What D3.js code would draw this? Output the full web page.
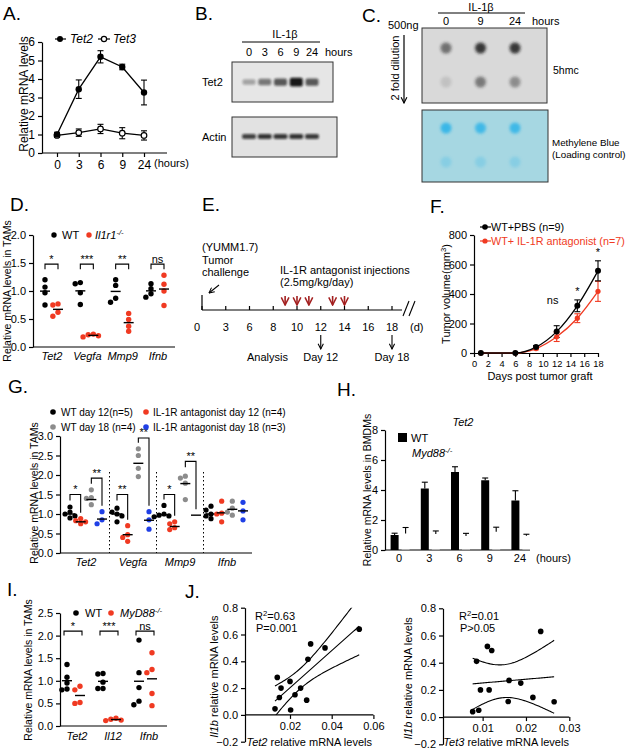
<!DOCTYPE html>
<html>
<head>
<meta charset="utf-8">
<script src="https://cdn.jsdelivr.net/npm/d3@7"></script>
<style>
  body { margin: 0; background: #fff; }
  svg { font-family: "Liberation Sans", Arial, sans-serif; font-size: 11px; }
  .axis path, .axis line { stroke: #000; stroke-width: 1.2; }
  .axis text { fill: #000; font-family: "Liberation Sans", Arial, sans-serif; }
</style>
</head>
<body>
<script>
// ---------- data ----------
// A. Tet2 / Tet3 time course
const hoursA = ['0', '3', '6', '9', '24']
const tet2Mean = [1.0, 3.45, 5.2, 4.65, 3.27]
const tet2Err = [0.12, 0.5, 0.33, 0.15, 0.67]
const tet3Mean = [0.95, 1.1, 1.3, 1.07, 0.95]
const tet3Err = [0.1, 0.2, 0.25, 0.3, 0.25]

// B. western blot (band intensity 0..1)
const blotLanes = ['0', '3', '6', '9', '24']
const tet2Band = [0.3, 0.5, 0.65, 0.95, 0.65]
const actinBand = [0.75, 0.82, 0.8, 0.82, 0.78]

// C. dot blot
const dotLanes = ['0', '9', '24']
const hmcRow1 = [0.55, 0.85, 0.85]
const hmcRow2 = [0.12, 0.5, 0.4]
const mbRow1 = [0.9, 0.85, 0.85]
const mbRow2 = [0.25, 0.25, 0.25]

// D. TAMs WT vs Il1r1-/-
const genesD = ['Tet2', 'Vegfa', 'Mmp9', 'Ifnb']
const wtD = [[1.2, 1.07, 0.97, 0.75], [1.13, 1.15, 0.97, 0.76], [1.2, 1.1, 0.87, 0.8], [1.13, 1.04, 0.95, 0.89]]
const koD = [[0.77, 0.75, 0.62, 0.55], [0.23, 0.2, 0.18, 0.22], [0.6, 0.49, 0.37, 0.28], [1.28, 1.12, 1.0, 0.74]]
const sigD = ['*', '***', '**', 'ns']

// E. timeline
const dayTicks = [0, 3, 6, 8, 10, 12, 14, 16, 18]
const injectionDays = [9, 10, 11, 13, 14]
const analysisDays = [12, 18]

// F. tumour volume
const daysF = [1, 6, 9, 12, 15, 18]
const pbsMean = [0, 0, 40, 145, 320, 557]
const pbsErr = [0, 0, 10, 40, 40, 68]
const antaMean = [0, 0, 30, 110, 236, 418]
const antaErr = [0, 0, 8, 32, 30, 68]
const sigF = [['ns', 12], ['*', 15], ['*', 18]]

// G. TAMs day 12 / day 18
const genesG = ['Tet2', 'Vegfa', 'Mmp9', 'Ifnb']
const groupsG = ['WT day 12(n=5)', 'IL-1R antagonist day 12 (n=4)', 'WT day 18 (n=4)', 'IL-1R antagonist day 18 (n=3)']
const wt12G = [[1.18, 1.05, 1.0, 0.95, 0.9], [1.15, 1.05, 1.0, 0.95, 0.8], [1.22, 1.0, 0.97, 0.95, 0.93], [1.2, 1.1, 1.0, 0.95, 0.88]]
const anta12G = [[0.88, 0.83, 0.8, 0.75], [0.7, 0.47, 0.4, 0.3], [0.8, 0.75, 0.65, 0.6], [1.33, 1.02, 1.0, 0.8]]
const wt18G = [[1.62, 1.42, 1.4, 1.24], [2.67, 2.5, 2.17, 1.96], [1.92, 1.97, 1.79, 1.37], [1.33, 1.15, 1.05, 0.97]]
const anta18G = [[1.06, 0.85, 0.75], [1.06, 0.85, 0.61], [], [1.3, 1.08, 0.85]]
const meanG = [[1.0, 0.8, 1.37, 0.87], [1.0, 0.47, 2.3, 0.84], [0.98, 0.68, 1.78, 0.97], [1.0, 1.03, 1.12, 1.08]]
const sigG = [
  ['Tet2', 0, 1, '*', 1.5], ['Tet2', 2, 3, '**', 1.92],
  ['Vegfa', 0, 1, '**', 1.5], ['Vegfa', 2, 3, '**', 2.95],
  ['Mmp9', 0, 1, '*', 1.5], ['Mmp9', 2, 3, '**', 2.35]
]

// H. BMDMs WT vs Myd88-/-
const hoursH = ['0', '3', '6', '9', '24']
const wtH = [1.0, 4.1, 5.2, 4.65, 3.3]
const wtHErr = [0.12, 0.42, 0.35, 0.15, 0.65]
const myd88H = [1.1, 1.07, 0.93, 1.22, 0.95]
const myd88HErr = [0.4, 0.2, 0.18, 0.3, 0.1]

// I. TAMs WT vs MyD88-/-
const genesI = ['Tet2', 'Il12', 'Ifnb']
const wtI = [[1.36, 1.08, 0.95, 0.82, 0.8], [1.15, 1.16, 0.97, 0.83, 0.83], [1.9, 1.18, 0.85, 0.55, 0.47]]
const koI = [[0.88, 0.8, 0.52, 0.5], [0.17, 0.15, 0.13, 0.12], [1.62, 1.25, 1.18, 0.72, 0.45]]
const sigI = ['*', '***', 'ns']

// J. correlations
const tet2J = [0.0128, 0.0139, 0.0157, 0.0149, 0.0203, 0.0200, 0.0224, 0.0251, 0.0280, 0.0286, 0.0299, 0.0368, 0.0532]
const il1bJ1 = [0.045, 0.28, 0.20, 0.13, 0.037, 0.25, 0.15, 0.20, 0.11, 0.415, 0.53, 0.50, 0.64]
const tet3J = [0.0077, 0.0091, 0.0086, 0.0095, 0.0111, 0.0121, 0.0115, 0.0159, 0.0161, 0.0188, 0.0216, 0.0234, 0.0265]
const il1bJ2 = [0.04, 0.05, 0.41, 0.20, 0.52, 0.49, 0.20, 0.115, 0.27, 0.25, 0.145, 0.63, 0.113]

const red = '#f03a22', grey = '#8c8c8c', blue = '#1f3fe6', darkRed = '#a32020'

// ---------- svg ----------
const svg = d3.select('body').append('svg').attr('width', 633).attr('height', 750)
const defs = svg.append('defs')
defs.append('filter').attr('id', 'blur1').attr('x', '-50%').attr('y', '-100%').attr('width', '200%').attr('height', '300%')
  .append('feGaussianBlur').attr('stdDeviation', 0.9)
defs.append('filter').attr('id', 'blur2').attr('x', '-50%').attr('y', '-50%').attr('width', '200%').attr('height', '200%')
  .append('feGaussianBlur').attr('stdDeviation', 1.6)
const arrowDef = (id, color) => defs.append('marker').attr('id', id).attr('viewBox', '0 0 10 10')
  .attr('refX', 9).attr('refY', 5).attr('markerWidth', 6).attr('markerHeight', 6).attr('orient', 'auto')
  .append('path').attr('d', 'M1,1L9,5L1,9').attr('fill', 'none').attr('stroke', color).attr('stroke-width', 1.6)
arrowDef('arrBlack', '#000')
arrowDef('arrRed', darkRed)

// ---------- helpers ----------
function text(g, x, y, str, anchor = 'start', size = 11, style = 'normal', color = '#000') {
  return g.append('text').attr('x', x).attr('y', y).attr('text-anchor', anchor)
    .attr('font-size', size).attr('font-style', style).attr('fill', color).text(str)
}
function rich(g, x, y, parts, anchor = 'start', size = 11, rotate = false, color = '#000') {
  const t = g.append('text').attr('text-anchor', anchor).attr('font-size', size).attr('fill', color)
    .attr('transform', `translate(${x},${y})` + (rotate ? ' rotate(-90)' : ''))
  parts.forEach(p => {
    const s = t.append('tspan').text(p.t)
    if (p.i) s.attr('font-style', 'italic')
    if (p.sup) s.attr('baseline-shift', 'super').attr('font-size', size * 0.7)
  })
  return t
}
const panelLabel = (str, x, y) => text(svg, x, y, str, 'start', 19)
function line(g, x1, y1, x2, y2, color = '#000', w = 1.2) {
  return g.append('line').attr('x1', x1).attr('y1', y1).attr('x2', x2).attr('y2', y2)
    .attr('stroke', color).attr('stroke-width', w)
}
function yAxis(scale, x, ticks, fmt, size = 11) {
  svg.append('g').attr('class', 'axis').attr('transform', `translate(${x},0)`)
    .call(d3.axisLeft(scale).tickValues(ticks).tickFormat(fmt).tickSize(4).tickSizeOuter(0))
    .selectAll('text').attr('font-size', size)
}
function xAxis(scale, y, ticks, fmt, size = 11, keepDomain = false) {
  const g = svg.append('g').attr('class', 'axis').attr('transform', `translate(0,${y})`)
    .call(d3.axisBottom(scale).tickValues(ticks).tickFormat(fmt).tickSize(4).tickSizeOuter(0))
  g.selectAll('text').attr('font-size', size)
  if (!keepDomain) g.select('.domain').remove()
  return g
}
function errBar(g, x, y1, y2, color = '#000', cap = 3) {
  line(g, x, y1, x, y2, color, 1.1)
  line(g, x - cap, y1, x + cap, y1, color, 1.1)
  line(g, x - cap, y2, x + cap, y2, color, 1.1)
}
// simple beeswarm so that dots with close values sit side by side
function swarm(values, y, cx, r) {
  const pts = values.map(v => ({ v, y: y(v) })).sort((a, b) => a.y - b.y)
  const placed = []
  pts.forEach(p => {
    for (const o of [0, -1, 1, -2, 2, -3, 3, -4, 4]) {
      const x = cx + o * r * 0.95
      if (placed.every(q => Math.hypot(q.x - x, q.y - p.y) >= 1.8 * r)) { p.x = x; break }
    }
    if (p.x === undefined) p.x = cx
    placed.push(p)
  })
  return pts
}
function dotPlot(values, cx, y, color, meanVal, r = 2.7) {
  svg.append('g').selectAll('circle').data(swarm(values, y, cx, r)).join('circle')
    .attr('cx', d => d.x).attr('cy', d => d.y).attr('r', r).attr('fill', color)
  const m = meanVal ?? d3.mean(values)
  line(svg, cx - 5, y(m), cx + 5, y(m), '#000', 1.4)
}
function bracket(x1, x2, yTop, y1, y2, label) {
  svg.append('path').attr('d', `M${x1},${y1}V${yTop}H${x2}V${y2}`)
    .attr('fill', 'none').attr('stroke', '#000').attr('stroke-width', 1.1)
  text(svg, (x1 + x2) / 2, yTop - 1.5, label, 'middle', 11)
}

// ---------- A ----------
panelLabel('A.', 3, 20)
const yA = d3.scaleLinear().domain([0, 6]).range([153, 42])
const xA = d3.scalePoint().domain(hoursA).range([57, 144])
yAxis(yA, 42, d3.range(0, 7), d3.format('d'), 12)
xAxis(xA, 153, hoursA, d => d, 12)
line(svg, 42, 153, 167, 153)
text(svg, 154, 167, '(hours)', 'start', 11)
rich(svg, 28, 94, [{ t: 'Relative mRNA levels' }], 'middle', 12, true)
const lineA = d3.line().x((d, i) => xA(hoursA[i])).y(d => yA(d))
svg.append('path').attr('d', lineA(tet3Mean)).attr('fill', 'none').attr('stroke', '#000').attr('stroke-width', 1.3)
svg.append('path').attr('d', lineA(tet2Mean)).attr('fill', 'none').attr('stroke', '#000').attr('stroke-width', 1.3)
hoursA.forEach((h, i) => {
  errBar(svg, xA(h), yA(tet2Mean[i] - tet2Err[i]), yA(tet2Mean[i] + tet2Err[i]))
  errBar(svg, xA(h), yA(tet3Mean[i] - tet3Err[i]), yA(tet3Mean[i] + tet3Err[i]))
})
svg.append('g').selectAll('circle').data(tet3Mean).join('circle')
  .attr('cx', (d, i) => xA(hoursA[i])).attr('cy', d => yA(d)).attr('r', 2.8)
  .attr('fill', '#fff').attr('stroke', '#000').attr('stroke-width', 1.2)
svg.append('g').selectAll('circle').data(tet2Mean).join('circle')
  .attr('cx', (d, i) => xA(hoursA[i])).attr('cy', d => yA(d)).attr('r', 3.2).attr('fill', '#000')
line(svg, 55, 39, 66, 39); svg.append('circle').attr('cx', 60).attr('cy', 39).attr('r', 3).attr('fill', '#000')
text(svg, 70, 43, 'Tet2', 'start', 12, 'italic')
line(svg, 98, 39, 110, 39); svg.append('circle').attr('cx', 104).attr('cy', 39).attr('r', 2.6)
  .attr('fill', '#fff').attr('stroke', '#000').attr('stroke-width', 1.2)
text(svg, 113, 43, 'Tet3', 'start', 12, 'italic')

// ---------- B ----------
panelLabel('B.', 195, 20)
const xB = d3.scalePoint().domain(blotLanes).range([249, 312])
text(svg, 285, 38, 'IL-1β', 'middle', 11)
line(svg, 242, 42, 320, 42, '#000', 1)
blotLanes.forEach(l => text(svg, xB(l), 56, l, 'middle', 11))
text(svg, 325, 56, 'hours', 'start', 11)
svg.append('rect').attr('x', 232).attr('y', 62).attr('width', 101).attr('height', 40)
  .attr('fill', '#e6e6e6').attr('stroke', '#333').attr('stroke-width', 1)
svg.append('rect').attr('x', 232).attr('y', 117).attr('width', 105).attr('height', 40)
  .attr('fill', '#e2e2e2').attr('stroke', '#333').attr('stroke-width', 1)
text(svg, 202, 86, 'Tet2', 'start', 11)
text(svg, 202, 141, 'Actin', 'start', 11)
svg.append('g').selectAll('rect').data(tet2Band).join('rect')
  .attr('x', (d, i) => xB(blotLanes[i]) - 6.5).attr('width', 13)
  .attr('y', d => 82 - (2 + 2.5 * d)).attr('height', d => 4 + 5 * d).attr('rx', 2)
  .attr('fill', '#111').attr('opacity', d => d).attr('filter', 'url(#blur1)')
svg.append('g').selectAll('rect').data(actinBand).join('rect')
  .attr('x', (d, i) => xB(blotLanes[i]) - 7).attr('width', 14)
  .attr('y', 134).attr('height', 5).attr('rx', 2)
  .attr('fill', '#111').attr('opacity', d => d).attr('filter', 'url(#blur1)')

// ---------- C ----------
panelLabel('C.', 362, 22)
text(svg, 388, 29, '500ng', 'start', 11)
svg.append('line').attr('x1', 404).attr('y1', 35).attr('x2', 404).attr('y2', 103)
  .attr('stroke', '#000').attr('stroke-width', 1.2).attr('marker-end', 'url(#arrBlack)')
rich(svg, 399, 68, [{ t: '2 fold dilution' }], 'middle', 11, true)
const xC = d3.scalePoint().domain(dotLanes).range([446, 515])
text(svg, 481, 11, 'IL-1β', 'middle', 11)
line(svg, 438, 13, 525, 13, '#000', 1)
dotLanes.forEach(l => text(svg, xC(l), 25, l, 'middle', 11))
text(svg, 532, 25, 'hours', 'start', 11)
svg.append('rect').attr('x', 422).attr('y', 28).attr('width', 125).attr('height', 75)
  .attr('fill', '#d9d9d9').attr('stroke', '#333').attr('stroke-width', 1)
svg.append('rect').attr('x', 422).attr('y', 110).attr('width', 126).attr('height', 72)
  .attr('fill', '#a6d7e2').attr('stroke', '#333').attr('stroke-width', 1)
const dotRow = (vals, cy, color) => svg.append('g').selectAll('circle').data(vals).join('circle')
  .attr('cx', (d, i) => xC(dotLanes[i])).attr('cy', cy).attr('r', 5.5)
  .attr('fill', color).attr('opacity', d => d).attr('filter', 'url(#blur2)')
dotRow(hmcRow1, 48, '#1a1a1a')
dotRow(hmcRow2, 82, '#1a1a1a')
dotRow(mbRow1, 128, '#2fb4e8')
dotRow(mbRow2, 162, '#2fb4e8')
text(svg, 553, 74, '5hmc', 'start', 10.5)
text(svg, 552, 146, 'Methylene Blue', 'start', 9.8)
text(svg, 552, 158, '(Loading control)', 'start', 9.8)

// ---------- D ----------
panelLabel('D.', 10, 211)
const yD = d3.scaleLinear().domain([0, 2]).range([347, 235])
const xD = d3.scalePoint().domain(genesD).range([52, 158])
yAxis(yD, 33, d3.range(0, 2.01, 0.5), d3.format('.1f'))
line(svg, 33, 347, 175, 347)
rich(svg, 11, 291, [{ t: 'Relative mRNA levels in TAMs' }], 'middle', 10.5, true)
genesD.forEach((g, i) => {
  const c = xD(g)
  dotPlot(wtD[i], c - 7, yD, '#000')
  dotPlot(koD[i], c + 6, yD, red)
  bracket(c - 7, c + 6, yD(1.48), yD(1.39), yD(1.39), sigD[i])
  text(svg, c, 360, g, 'middle', 11, 'italic')
})
svg.append('circle').attr('cx', 54).attr('cy', 235).attr('r', 2.7).attr('fill', '#000')
text(svg, 62, 239, 'WT', 'start', 11)
svg.append('circle').attr('cx', 89).attr('cy', 235).attr('r', 2.7).attr('fill', red)
rich(svg, 95, 239, [{ t: 'Il1r1', i: true }, { t: '-/-', i: true, sup: true }], 'start', 11)

// ---------- E ----------
panelLabel('E.', 202, 211)
const xE = d3.scaleLinear().domain(dayTicks).range(dayTicks.map((d, i) => 202 + i * 23.75))
line(svg, 202, 310, 402, 310)
line(svg, 202, 295, 202, 310)
dayTicks.forEach(d => {
  line(svg, xE(d), 306, xE(d), 310)
  text(svg, xE(d) - (d === 0 ? 5 : 0), 331, d, 'middle', 11)
})
text(svg, 410, 331, '(d)', 'start', 11)
line(svg, 403, 316, 409, 301, '#000', 1.1)
line(svg, 409, 316, 415, 301, '#000', 1.1)
text(svg, 202, 251, '(YUMM1.7)', 'start', 11)
text(svg, 202, 264, 'Tumor', 'start', 11)
text(svg, 202, 276, 'challenge', 'start', 11)
svg.append('line').attr('x1', 219).attr('y1', 285).attr('x2', 209).attr('y2', 293)
  .attr('stroke', '#000').attr('stroke-width', 1.1).attr('marker-end', 'url(#arrBlack)')
text(svg, 280, 274, 'IL-1R antagonist injections', 'start', 11)
text(svg, 280, 286, '(2.5mg/kg/day)', 'start', 11)
svg.append('g').selectAll('line').data(injectionDays).join('line')
  .attr('x1', d => xE(d)).attr('x2', d => xE(d)).attr('y1', 296).attr('y2', 305)
  .attr('stroke', darkRed).attr('stroke-width', 1.6).attr('marker-end', 'url(#arrRed)')
svg.append('g').selectAll('line').data(analysisDays).join('line')
  .attr('x1', d => xE(d)).attr('x2', d => xE(d)).attr('y1', 335).attr('y2', 349)
  .attr('stroke', '#000').attr('stroke-width', 1.1).attr('marker-end', 'url(#arrBlack)')
analysisDays.forEach(d => text(svg, xE(d), 361, 'Day ' + d, 'middle', 11))
text(svg, 247, 361, 'Analysis', 'start', 11)

// ---------- F ----------
panelLabel('F.', 430, 213)
const yF = d3.scaleLinear().domain([0, 800]).range([353, 235])
const xF = d3.scaleLinear().domain([0, 18]).range([474, 598])
yAxis(yF, 474, d3.range(0, 801, 200), d3.format('d'))
xAxis(xF, 353, d3.range(0, 19, 2), d3.format('d'), 9.3, true)
text(svg, 540, 380, 'Days post tumor graft', 'middle', 11)
rich(svg, 450, 294, [{ t: 'Tumor volume(mm' }, { t: '3', sup: true }, { t: ')' }], 'middle', 11, true)
const curveF = d3.line().x((d, i) => xF(daysF[i])).y(d => yF(d)).curve(d3.curveMonotoneX)
svg.append('path').attr('d', curveF(antaMean)).attr('fill', 'none').attr('stroke', red).attr('stroke-width', 1.3)
svg.append('path').attr('d', curveF(pbsMean)).attr('fill', 'none').attr('stroke', '#000').attr('stroke-width', 1.3)
daysF.forEach((d, i) => {
  if (antaErr[i] > 0) errBar(svg, xF(d), yF(antaMean[i] - antaErr[i]), yF(antaMean[i] + antaErr[i]), red)
  if (pbsErr[i] > 0) errBar(svg, xF(d), yF(pbsMean[i] - pbsErr[i]), yF(pbsMean[i] + pbsErr[i]), '#000')
})
svg.append('g').selectAll('circle').data(antaMean).join('circle')
  .attr('cx', (d, i) => xF(daysF[i])).attr('cy', d => yF(d)).attr('r', 2.6).attr('fill', red)
svg.append('g').selectAll('circle').data(pbsMean).join('circle')
  .attr('cx', (d, i) => xF(daysF[i])).attr('cy', d => yF(d)).attr('r', 3).attr('fill', '#000')
sigF.forEach(([s, d]) => {
  const top = yF(pbsMean[daysF.indexOf(d)] + pbsErr[daysF.indexOf(d)])
  text(svg, xF(d) + (s === 'ns' ? -4 : 0), top - (s === 'ns' ? 22 : 5), s, 'middle', 11)
})
line(svg, 480, 227, 491, 227); svg.append('circle').attr('cx', 485).attr('cy', 227).attr('r', 2.8).attr('fill', '#000')
text(svg, 491, 231, 'WT+PBS (n=9)', 'start', 10.8)
line(svg, 480, 241, 491, 241, red); svg.append('circle').attr('cx', 485).attr('cy', 241).attr('r', 2.6).attr('fill', red)
text(svg, 491, 245, 'WT+ IL-1R antagonist (n=7)', 'start', 10.8, 'normal', red)

// ---------- G ----------
panelLabel('G.', 8, 393)
const yG = d3.scaleLinear().domain([0, 3]).range([553, 436])
const xG = d3.scalePoint().domain(genesG).range([86, 227])
const subG = d3.scalePoint().domain(d3.range(4)).range([-16, 16])
yAxis(yG, 60, d3.range(0, 3.01, 0.5), d3.format('.1f'))
line(svg, 60, 553, 252, 553)
rich(svg, 38, 493, [{ t: 'Relative mRNA levels in TAMs' }], 'middle', 10.5, true)
genesG.slice(1).forEach((g, i) => {
  const xm = (xG(genesG[i]) + xG(g)) / 2
  svg.append('line').attr('x1', xm).attr('x2', xm).attr('y1', 472).attr('y2', 553)
    .attr('stroke', '#000').attr('stroke-width', 1).attr('stroke-dasharray', '1.5,2.5')
})
const seriesG = [[wt12G, '#000'], [anta12G, red], [wt18G, grey], [anta18G, blue]]
genesG.forEach((g, i) => {
  seriesG.forEach(([vals, col], k) => dotPlot(vals[i], xG(g) + subG(k), yG, col, meanG[i][k], 2.6))
  text(svg, xG(g), 566, g, 'middle', 11, 'italic')
})
sigG.forEach(([g, a, b, s, top]) => {
  const i = genesG.indexOf(g)
  const x1 = xG(g) + subG(a), x2 = xG(g) + subG(b)
  const srcA = seriesG[a][0][i], srcB = seriesG[b][0][i]
  const hiA = d3.max(srcA.length ? srcA : [meanG[i][a]]), hiB = d3.max(srcB.length ? srcB : [meanG[i][b]])
  bracket(x1, x2, yG(top), Math.min(yG(hiA) - 6, yG(top) + 6), Math.max(yG(hiB) - 6, yG(top) + 6), s)
})
const legG = [[53, 412, '#000', 61], [146, 412, red, 153], [53, 427, grey, 61], [146, 427, blue, 153]]
groupsG.forEach((name, k) => {
  const [cx, cy, col, tx] = legG[k]
  svg.append('circle').attr('cx', cx).attr('cy', cy).attr('r', 2.8).attr('fill', col)
  text(svg, tx, cy + 4, name, 'start', 10)
})

// ---------- H ----------
panelLabel('H.', 337, 396)
const yH = d3.scaleLinear().domain([0, 8]).range([550, 430])
const xH = d3.scaleBand().domain(hoursH).range([385, 536])
yAxis(yH, 385, d3.range(0, 9, 2), d3.format('d'))
line(svg, 385, 550, 530, 550)
hoursH.forEach(h => text(svg, xH(h) + xH.bandwidth() / 2 - 1, 562, h, 'middle', 11))
text(svg, 536, 562, '(hours)', 'start', 11)
text(svg, 463, 426, 'Tet2', 'middle', 11, 'italic')
rich(svg, 371, 490, [{ t: 'Relative mRNA levels in BMDMs' }], 'middle', 10.5, true)
const cH = h => xH(h) + xH.bandwidth() / 2
svg.append('g').selectAll('rect').data(wtH).join('rect')
  .attr('x', (d, i) => cH(hoursH[i]) - 9.5).attr('width', 8)
  .attr('y', d => yH(d)).attr('height', d => yH(0) - yH(d)).attr('fill', '#000')
svg.append('g').selectAll('rect').data(myd88H).join('rect')
  .attr('x', (d, i) => cH(hoursH[i]) + 1.5).attr('width', 8)
  .attr('y', d => yH(d)).attr('height', d => yH(0) - yH(d) - 0.6).attr('fill', '#fff')
hoursH.forEach((h, i) => {
  const xw = cH(h) - 5.5, xm = cH(h) + 5.5
  line(svg, xw, yH(wtH[i]), xw, yH(wtH[i] + wtHErr[i]), '#000', 1.1)
  line(svg, xw - 3, yH(wtH[i] + wtHErr[i]), xw + 3, yH(wtH[i] + wtHErr[i]), '#000', 1.1)
  line(svg, xm, yH(myd88H[i]), xm, yH(myd88H[i] + myd88HErr[i]), '#000', 1.1)
  line(svg, xm - 3, yH(myd88H[i] + myd88HErr[i]), xm + 3, yH(myd88H[i] + myd88HErr[i]), '#000', 1.1)
})
svg.append('rect').attr('x', 398).attr('y', 433).attr('width', 9).attr('height', 9).attr('fill', '#000')
text(svg, 411, 442, 'WT', 'start', 11)
rich(svg, 412, 457, [{ t: 'Myd88', i: true }, { t: '-/-', i: true, sup: true }], 'start', 11)

// ---------- I ----------
panelLabel('I.', 7, 596)
const yI = d3.scaleLinear().domain([0, 2.5]).range([726, 613])
const xI = d3.scalePoint().domain(genesI).range([74, 146])
yAxis(yI, 60, d3.range(0, 2.51, 0.5), d3.format('.1f'))
line(svg, 60, 726, 167, 726)
rich(svg, 32, 670, [{ t: 'Relative mRNA levels in TAMs' }], 'middle', 10.5, true)
genesI.forEach((g, i) => {
  const c = xI(g)
  dotPlot(wtI[i], c - 7, yI, '#000')
  dotPlot(koI[i], c + 6, yI, red)
  bracket(c - 10, c + 8, yI(2.1), yI(2.0), yI(2.0), sigI[i])
  text(svg, c + 3, 740, g, 'middle', 11, 'italic')
})
svg.append('circle').attr('cx', 76).attr('cy', 613).attr('r', 2.8).attr('fill', '#000')
text(svg, 85, 617, 'WT', 'start', 11)
svg.append('circle').attr('cx', 111).attr('cy', 613).attr('r', 2.8).attr('fill', red)
rich(svg, 120, 617, [{ t: 'MyD88', i: true }, { t: '-/-', i: true, sup: true }], 'start', 11)

// ---------- J ----------
panelLabel('J.', 185, 598)
function fit(xs, ys) {
  const n = xs.length, mx = d3.mean(xs), my = d3.mean(ys)
  const sxx = d3.sum(xs, x => (x - mx) ** 2)
  const sxy = d3.sum(xs.map((x, i) => (x - mx) * (ys[i] - my)))
  const b = sxy / sxx, a = my - b * mx
  const s = Math.sqrt(d3.sum(xs.map((x, i) => (ys[i] - a - b * x) ** 2)) / (n - 2))
  const t = 2.201 // t(0.975, 11 df)
  return { f: x => a + b * x, band: x => t * s * Math.sqrt(1 / n + (x - mx) ** 2 / sxx) }
}
function scatterJ(id, xs, ys, x, y, axisX, ticksX, fmtX, xName, r2, p, lx, textX) {
  yAxis(y, axisX, d3.range(-0.2, 0.81, 0.2), d3.format('.1f'))
  xAxis(x, y(0), ticksX, fmtX, 11)
  line(svg, axisX, y(0), x.range()[1], y(0))
  defs.append('clipPath').attr('id', id).append('rect')
    .attr('x', axisX).attr('y', y(0.8)).attr('width', x.range()[1] - axisX).attr('height', y(0) - y(0.8))
  const m = fit(xs, ys)
  const [x0, x1] = d3.extent(xs)
  const grid = d3.range(61).map(i => x0 + (x1 - x0) * i / 60)
  const ln = d3.line().x(d => x(d[0])).y(d => y(d[1]))
  const cg = svg.append('g').attr('clip-path', `url(#${id})`)
  const curves = [grid.map(v => [v, m.f(v)]), grid.map(v => [v, m.f(v) + m.band(v)]), grid.map(v => [v, m.f(v) - m.band(v)])]
  cg.selectAll('path').data(curves).join('path').attr('d', ln)
    .attr('fill', 'none').attr('stroke', '#000').attr('stroke-width', 1.1)
  svg.append('g').selectAll('circle').data(xs).join('circle')
    .attr('cx', d => x(d)).attr('cy', (d, i) => y(ys[i])).attr('r', 2.8).attr('fill', '#000')
  rich(svg, textX, y(0.8) + 12, [{ t: 'R' }, { t: '2', sup: true }, { t: '=' + r2 }], 'start', 11)
  text(svg, textX + 1, y(0.8) + 24, p, 'start', 11)
  rich(svg, (axisX + x.range()[1]) / 2, 746, [{ t: xName, i: true }, { t: ' relative mRNA levels' }], 'middle', 11)
  rich(svg, lx, (y(0.8) + y(-0.2)) / 2 + 2, [{ t: 'Il1b', i: true }, { t: ' relative mRNA levels' }], 'middle', 11, true)
}
const xJ1 = d3.scaleLinear().domain([0, 0.06]).range([248.3, 373.4])
const yJ1 = d3.scaleLinear().domain([-0.2, 0.8]).range([741.7, 607.7])
scatterJ('clipJ1', tet2J, il1bJ1, xJ1, yJ1, 245, [0.02, 0.04, 0.06], d3.format('.2f'), 'Tet2', '0.63', 'P=0.001', 218, 255)
const xJ2 = d3.scaleLinear().domain([0, 0.03]).range([439.3, 569.3])
const yJ2 = d3.scaleLinear().domain([-0.2, 0.8]).range([744.3, 608.3])
scatterJ('clipJ2', tet3J, il1bJ2, xJ2, yJ2, 443, [0.01, 0.02, 0.03], d3.format('.2f'), 'Tet3', '0.01', 'P>0.05', 412, 459)
</script>
</body>
</html>
